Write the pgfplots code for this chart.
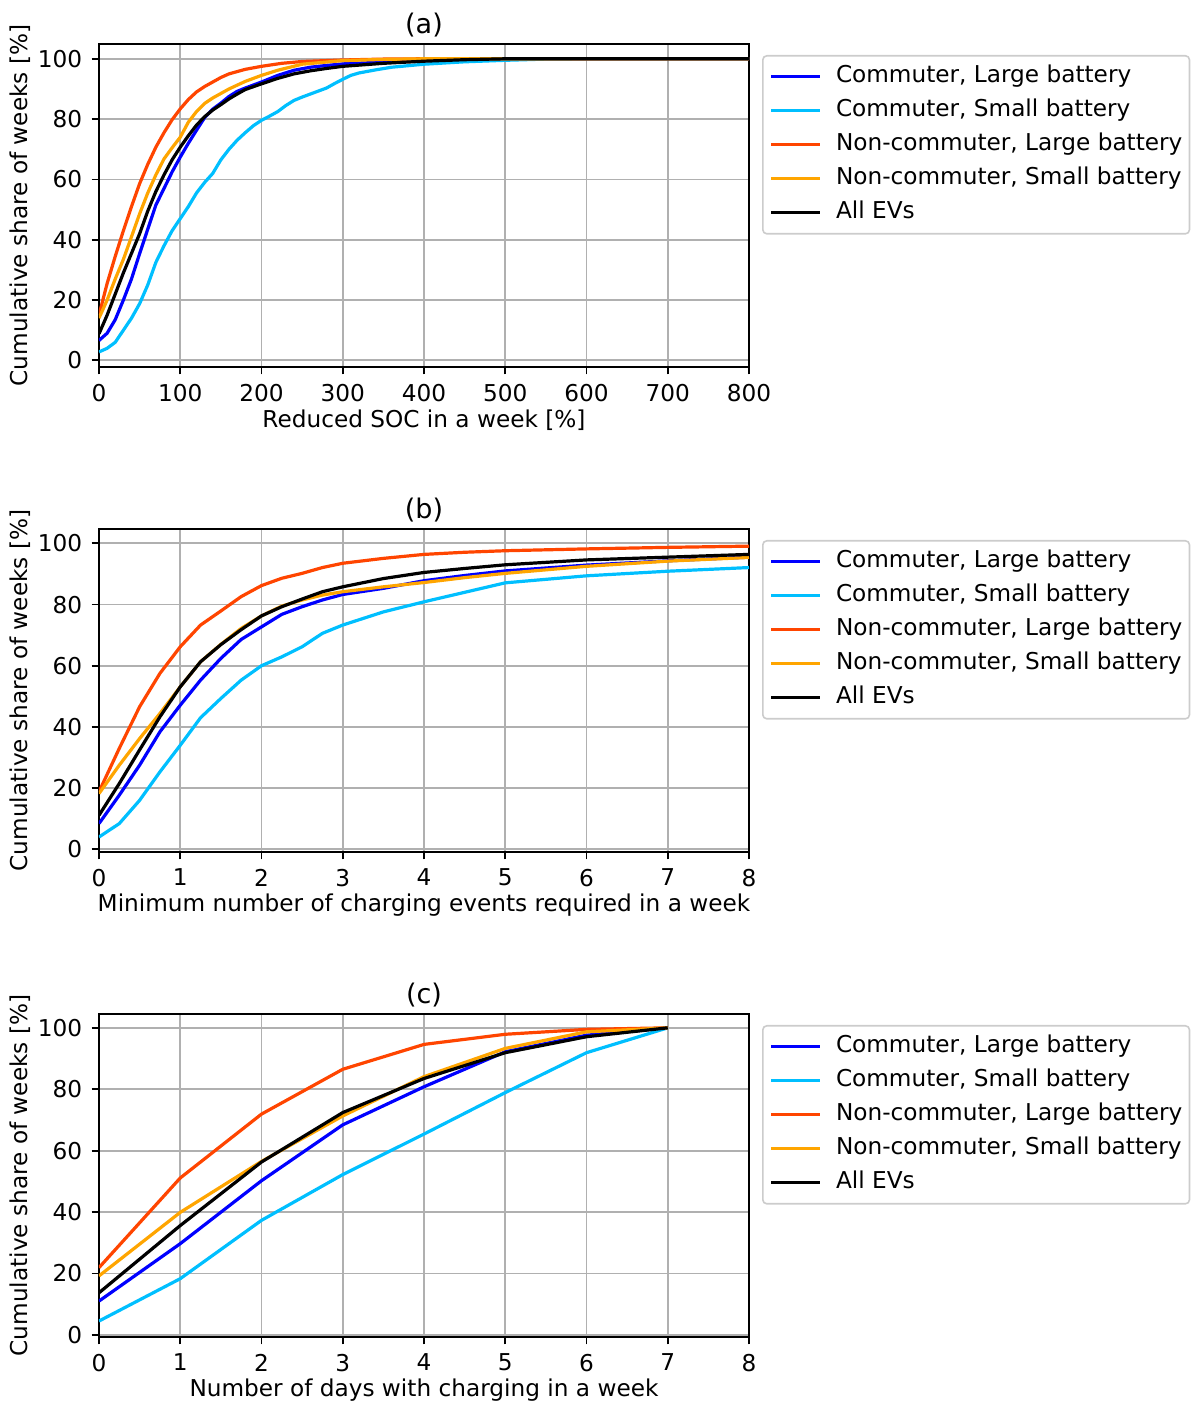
\documentclass[border=0pt]{standalone}
\usepackage{fontspec}
\setmainfont{DejaVu Sans}
\usepackage{pgfplots}
\pgfplotsset{compat=1.18}

\definecolor{cLarge}{RGB}{0,0,255}
\definecolor{cSmall}{RGB}{0,191,255}
\definecolor{nLarge}{RGB}{255,69,0}
\definecolor{nSmall}{RGB}{255,165,0}

\newcommand{\fs}{\fontsize{11.6}{13.9}\selectfont}
\newcommand{\fst}{\fontsize{13.5}{16}\selectfont}

\pgfplotsset{
  cdfpanel/.style={
    scale only axis,
    width=325pt, height=161.5pt,
    anchor=north west,
    font=\fs,
    /pgf/number format/assume math mode=true,
    ticklabel style={font=\fs},
    axis line style={line width=0.9pt},
    tick style={line width=0.9pt, black},
    major tick length=3.7pt,
    tick align=outside,
    xtick pos=bottom, ytick pos=left,
    grid=major,
    major grid style={line width=0.9pt, color=black!31},
    ytick={0,20,40,60,80,100},
    yticklabel style={anchor=east, inner sep=0pt, xshift=-4.5pt},
    xticklabel style={anchor=north, inner sep=0pt, yshift=-4.5pt},
    title style={at={(axis description cs:0.5,1.022)}, anchor=center, font=\fst},
    xlabel style={at={(axis description cs:0.5,-0.164)}, anchor=center, font=\fs},
    ylabel style={at={(axis description cs:-0.1215,0.5)}, anchor=center, font=\fs},
    ylabel={Cumulative share of weeks [\%]},
    legend cell align=left,
    legend image code/.code={\draw[#1] (0pt,0pt) -- (24.5pt,0pt);},
    legend style={
      at={(1.02,0.966)}, anchor=north west,
      draw=black!20, line width=0.8pt, rounded corners=2pt,
      fill=white, font=\fs,
      inner xsep=3.5pt, inner ysep=5pt,
      row sep=6pt,
      nodes={inner sep=0pt, text height=8.5pt, text depth=2.5pt},
      /tikz/every odd column/.append style={column sep=7pt},
    },
    every axis plot/.append style={line width=1.6pt, line join=round},
  }
}

\begin{document}
\begin{tikzpicture}
\useasboundingbox (0pt,0pt) rectangle (596pt,-702.5pt);

% (a) reduced state of charge
\begin{axis}[cdfpanel, at={(49.5pt,-22pt)},
  title={(a)}, xlabel={Reduced SOC in a week [\%]},
  xmin=0, xmax=800, ymin=-2.2, ymax=104.9,
  xtick={0,100,...,800}]
\addplot[cLarge] coordinates {
(0,6.6)(10,9)(20,13.5)(30,20)(40,27)(50,35.4)(60,43.5)(70,51.5)(80,57)(90,62.5)
(100,67.4)(110,72)(120,76.3)(130,80.5)(140,83.3)(150,85.3)(160,87.5)(170,89.2)
(180,90.3)(200,92.3)(220,94.5)(240,96.2)(260,97.2)(280,97.8)(300,98.3)(350,98.9)
(400,99.4)(450,99.7)(500,100)(800,100)};
\addlegendentry{Commuter, Large battery}
\addplot[cSmall] coordinates {
(0,2.8)(10,4)(20,6)(30,10)(40,14)(50,18.8)(60,25)(70,32.5)(80,38)(90,43)(100,47)
(110,51)(120,55.5)(130,59)(140,62)(150,66.5)(160,70)(170,73)(180,75.5)(190,77.8)
(200,79.6)(210,81)(220,82.5)(230,84.5)(240,86.2)(250,87.3)(260,88.3)(270,89.3)
(280,90.3)(290,91.8)(300,93.2)(310,94.5)(320,95.3)(340,96.3)
(360,97.2)(400,98.2)(450,99)(500,99.5)(550,99.9)(600,100)(800,100)};
\addlegendentry{Commuter, Small battery}
\addplot[nLarge] coordinates {
(0,15)(10,25.5)(20,34.5)(30,43)(40,51)(50,58.6)(60,65)(70,70.7)(80,75.5)(90,79.8)
(100,83.4)(110,86.5)(120,89)(130,90.8)(140,92.3)(150,93.8)(160,95)(180,96.5)
(200,97.5)(225,98.5)(250,99.1)(300,99.6)(350,99.9)(400,100)(800,100)};
\addlegendentry{Non-commuter, Large battery}
\addplot[nSmall] coordinates {
(0,14)(10,20)(20,27)(30,33.5)(40,41)(50,48.6)(60,55.5)(70,61.5)(80,66.8)(90,70.5)
(100,74)(110,79)(120,82.5)(130,85.2)(140,87)(150,88.5)(160,90)(180,92.5)
(200,94.5)(220,96.2)(250,98.2)(300,99.4)(350,99.8)(400,100)(800,100)};
\addlegendentry{Non-commuter, Small battery}
\addplot[black] coordinates {
(0,8.8)(10,15)(20,22)(30,29)(40,35.5)(50,42)(60,49.5)(70,56)(80,61.5)(90,66.5)
(100,70.7)(110,74.5)(120,78)(130,80.8)(140,83)(150,84.8)(160,86.7)(170,88.3)
(180,89.8)(200,91.7)(220,93.5)(240,95)(260,96)(280,96.8)(300,97.5)(350,98.5)
(400,99.2)(450,99.7)(500,100)(800,100)};
\addlegendentry{All EVs}
\end{axis}

% (b) minimum number of charging events
\begin{axis}[cdfpanel, at={(49.5pt,-264.5pt)},
  title={(b)}, xlabel={Minimum number of charging events required in a week},
  xmin=0, xmax=8, ymin=-0.9, ymax=104.7,
  xtick={0,1,...,8}]
\addplot[cLarge] coordinates {
(0,8.4)(0.25,17.7)(0.5,27.5)(0.75,38.4)(1,47.1)(1.25,55.3)(1.5,62.4)(1.75,68.6)
(2,72.7)(2.25,76.8)(2.5,79.3)(2.75,81.5)(3,83.3)(3.5,85.3)(4,87.8)(4.5,89.5)
(5,91.0)(6,92.9)(7,94.3)(8,95.5)};
\addlegendentry{Commuter, Large battery}
\addplot[cSmall] coordinates {
(0,4.0)(0.25,8.4)(0.5,16.0)(0.75,25.3)(1,34.0)(1.25,43.0)(1.5,49.3)(1.75,55.3)
(2,60.0)(2.25,62.9)(2.5,66.2)(2.75,70.6)(3,73.3)(3.5,77.6)(4,80.9)(4.5,84)
(5,87.1)(6,89.4)(7,90.9)(8,92.1)};
\addlegendentry{Commuter, Small battery}
\addplot[nLarge] coordinates {
(0,18.8)(0.25,33)(0.5,46.6)(0.75,57.5)(1,66.2)(1.25,73.3)(1.5,77.9)(1.75,82.6)
(2,86.2)(2.25,88.6)(2.5,90.2)(2.75,92.1)(3,93.5)(3.5,95.1)(4,96.4)(4.5,97.1)
(5,97.6)(6,98.2)(7,98.7)(8,99.1)};
\addlegendentry{Non-commuter, Large battery}
\addplot[nSmall] coordinates {
(0,18.2)(0.25,27.5)(0.5,36.2)(0.75,44.4)(1,53.1)(1.25,61.3)(1.5,67)(1.75,72.2)
(2,76.3)(2.25,79.5)(2.5,81.5)(2.75,83.1)(3,84.2)(3.5,85.8)(4,87.2)(4.5,88.8)
(5,90.2)(6,92.5)(7,94.2)(8,95.4)};
\addlegendentry{Non-commuter, Small battery}
\addplot[black] coordinates {
(0,11.1)(0.25,21.5)(0.5,32.5)(0.75,43.3)(1,53.1)(1.25,61.3)(1.5,66.9)(1.75,71.8)
(2,76.3)(2.25,79.3)(2.5,81.8)(2.75,84.2)(3,85.8)(3.5,88.5)(4,90.5)(4.5,91.8)
(5,93.0)(6,94.6)(7,95.5)(8,96.4)};
\addlegendentry{All EVs}
\end{axis}

% (c) number of days with charging
\begin{axis}[cdfpanel, at={(49.5pt,-507pt)},
  title={(c)}, xlabel={Number of days with charging in a week},
  xmin=0, xmax=8, ymin=-0.7, ymax=104.5,
  xtick={0,1,...,8}]
\addplot[cLarge] coordinates {
(0,11.0)(1,29.7)(2,50.2)(3,68.4)(4,80.8)(5,92.2)(6,97.6)(7,100)};
\addlegendentry{Commuter, Large battery}
\addplot[cSmall] coordinates {
(0,4.5)(1,18.3)(2,37.3)(3,52.2)(4,65.4)(5,78.9)(6,91.9)(7,100)};
\addlegendentry{Commuter, Small battery}
\addplot[nLarge] coordinates {
(0,21.9)(1,51.1)(2,71.9)(3,86.5)(4,94.6)(5,97.9)(6,99.5)(7,100)};
\addlegendentry{Non-commuter, Large battery}
\addplot[nSmall] coordinates {
(0,19.2)(1,39.9)(2,56.5)(3,71.3)(4,84.1)(5,93.3)(6,98.7)(7,100)};
\addlegendentry{Non-commuter, Small battery}
\addplot[black] coordinates {
(0,13.7)(1,35.6)(2,56.3)(3,72.4)(4,83.5)(5,91.9)(6,97.1)(7,100)};
\addlegendentry{All EVs}
\end{axis}
\end{tikzpicture}
\end{document}
